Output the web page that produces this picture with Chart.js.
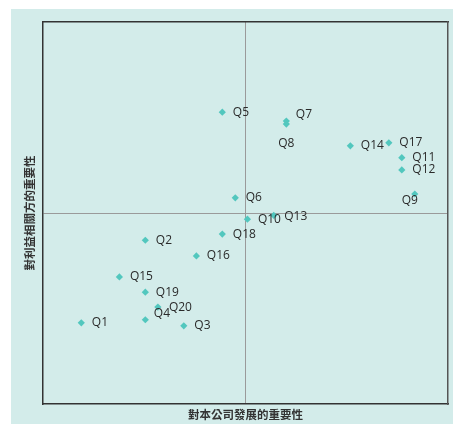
<!DOCTYPE html>
<html>
<head>
<meta charset="utf-8">
<script src="https://cdn.jsdelivr.net/npm/chart.js@4"></script>
<style>
  html, body { margin: 0; padding: 0; background: #fff; }
  #wrap { position: relative; width: 453px; height: 424px; }
</style>
</head>
<body>
<div id="wrap"><canvas id="myChart" width="453" height="424"></canvas></div>
<script>
// issues and their scores (0-10 scale, split at 5)
const names = ["Q1", "Q2", "Q3", "Q4", "Q5", "Q6", "Q7", "Q8", "Q9", "Q10",
  "Q11", "Q12", "Q13", "Q14", "Q15", "Q16", "Q17", "Q18", "Q19", "Q20"];
const companyImportance = [0.95, 2.53, 3.48, 2.53, 4.43, 4.75, 6.01, 6.01, 9.18, 5.05,
  8.86, 8.86, 5.70, 7.59, 1.89, 3.79, 8.54, 4.43, 2.53, 2.84];
const stakeholderImportance = [2.13, 4.29, 2.05, 2.21, 7.64, 5.40, 7.41, 7.33, 5.50, 4.84,
  6.45, 6.13, 4.94, 6.76, 3.33, 3.88, 6.84, 4.45, 2.93, 2.54];
const xTitle = "對本公司發展的重要性";
const yTitle = "對利益相關方的重要性";

// label placement tweaks where labels would collide
const labelOffsets = {
  Q4: { dx: 8.5, dy: -6.5 },
  Q7: { dx: 9.5, dy: -6.5 },
  Q8: { dx: 0, dy: 20, align: "center" },
  Q9: { dx: -5, dy: 6.5, align: "center" },
  Q13: { dx: 10.5, dy: 1.5 },
  Q20: { dx: 11, dy: 0.5 },
};

const points = names.map((n, i) => ({ x: companyImportance[i], y: stakeholderImportance[i] }));

const bgPlugin = {
  id: "bg",
  beforeDraw(chart) {
    const ctx = chart.ctx;
    ctx.save();
    ctx.fillStyle = "#d3ecea";
    ctx.fillRect(11, 9, chart.width - 11, chart.height - 9);
    ctx.restore();
  },
};

const labelPlugin = {
  id: "pointLabels",
  afterDatasetsDraw(chart) {
    const ctx = chart.ctx;
    const meta = chart.getDatasetMeta(0);
    ctx.save();
    ctx.font = "12px 'Open Sans', sans-serif";
    ctx.fillStyle = "#2a2a2a";
    ctx.textBaseline = "middle";
    meta.data.forEach((el, i) => {
      const o = labelOffsets[names[i]] || { dx: 10.5, dy: 0 };
      ctx.textAlign = o.align || "left";
      ctx.fillText(names[i], el.x + o.dx, el.y + o.dy);
    });
    ctx.restore();
  },
};

const ctx = document.getElementById("myChart").getContext("2d");
new Chart(ctx, {
  type: "scatter",
  data: {
    datasets: [{
      data: points,
      pointStyle: "rectRot",
      pointRadius: 3.6,
      pointHoverRadius: 3.6,
      backgroundColor: "#52c7be",
      borderColor: "#52c7be",
      borderWidth: 0,
    }],
  },
  options: {
    responsive: false,
    animation: false,
    events: [],
    layout: { padding: { top: 22, right: 5, left: 17, bottom: 0 } },
    plugins: { legend: { display: false }, tooltip: { enabled: false } },
    scales: {
      x: {
        min: 0, max: 10,
        ticks: { display: false, stepSize: 5 },
        grid: {
          drawTicks: false,
          color: (c) => (c.tick && c.tick.value === 5 ? "#9a9a9a" : "rgba(0,0,0,0)"),
          lineWidth: 1,
        },
        border: { display: true, color: "#333", width: 1.5 },
        title: {
          display: true, text: xTitle, color: "#333",
          font: { family: "'Noto Sans CJK TC', sans-serif", size: 11.5, weight: "bold" },
          padding: { top: 4, bottom: 2 },
        },
      },
      y: {
        min: 0, max: 10,
        ticks: { display: false, stepSize: 5 },
        grid: {
          drawTicks: false,
          color: (c) => (c.tick && c.tick.value === 5 ? "#9a9a9a" : "rgba(0,0,0,0)"),
          lineWidth: 1,
        },
        border: { display: true, color: "#333", width: 1.5 },
        title: {
          display: true, text: yTitle, color: "#333",
          font: { family: "'Noto Sans CJK TC', sans-serif", size: 11.5, weight: "bold" },
          padding: { top: 6, bottom: 6 },
        },
      },
      x2: {
        position: "top", min: 0, max: 10,
        ticks: { display: false }, grid: { display: false, drawTicks: false },
        border: { display: true, color: "#333", width: 1.5 },
      },
      y2: {
        position: "right", min: 0, max: 10,
        ticks: { display: false }, grid: { display: false, drawTicks: false },
        border: { display: true, color: "#555", width: 1.5 },
      },
    },
  },
  plugins: [bgPlugin, labelPlugin],
});
</script>
</body>
</html>
